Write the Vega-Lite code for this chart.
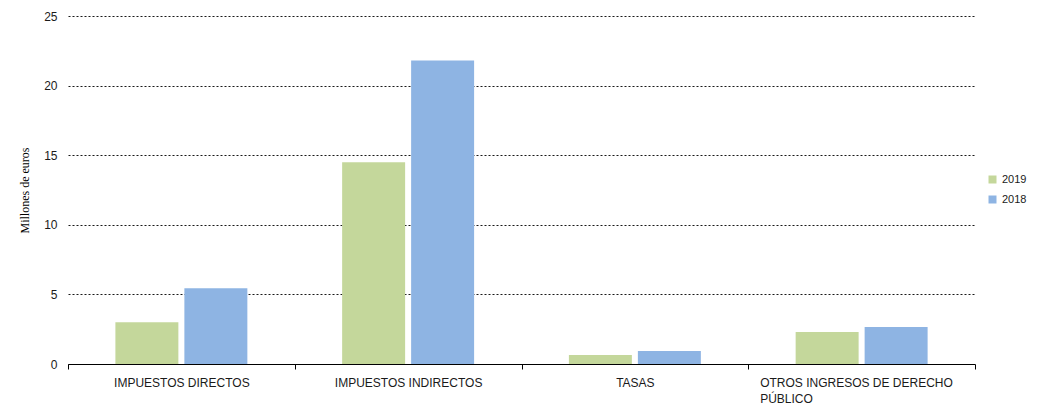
{
  "$schema": "https://vega.github.io/schema/vega-lite/v6.json",
  "autosize": {"type": "none"},
  "padding": {"left": 68, "top": 16, "right": 62, "bottom": 44},
  "width": 907,
  "height": 348,
  "background": "white",
  "data": {"values": [
    {"categoria": "IMPUESTOS DIRECTOS", "año": "2019", "valor": 3.0},
    {"categoria": "IMPUESTOS DIRECTOS", "año": "2018", "valor": 5.45},
    {"categoria": "IMPUESTOS INDIRECTOS", "año": "2019", "valor": 14.5},
    {"categoria": "IMPUESTOS INDIRECTOS", "año": "2018", "valor": 21.8},
    {"categoria": "TASAS", "año": "2019", "valor": 0.65},
    {"categoria": "TASAS", "año": "2018", "valor": 0.93},
    {"categoria": "OTROS INGRESOS DE DERECHO PÚBLICO", "año": "2019", "valor": 2.3},
    {"categoria": "OTROS INGRESOS DE DERECHO PÚBLICO", "año": "2018", "valor": 2.66}
  ]},
  "mark": {"type": "bar"},
  "encoding": {
    "x": {
      "field": "categoria", "type": "nominal",
      "sort": ["IMPUESTOS DIRECTOS", "IMPUESTOS INDIRECTOS", "TASAS", "OTROS INGRESOS DE DERECHO PÚBLICO"],
      "scale": {"paddingInner": 0, "paddingOuter": 0},
      "axis": {
        "title": null,
        "labelAngle": 0,
        "labelFont": "Liberation Sans",
        "labelFontSize": 12,
        "labelColor": "#1a1a1a",
        "labelPadding": 8,
        "labelLimit": 0,
        "labelExpr": "datum.value == 'OTROS INGRESOS DE DERECHO PÚBLICO' ? ['OTROS INGRESOS DE DERECHO', 'PÚBLICO'] : datum.value",
        "labelAlign": {"condition": {"test": "datum.value == 'OTROS INGRESOS DE DERECHO PÚBLICO'", "value": "left"}, "value": "center"},
        "labelOffset": {"condition": {"test": "datum.value == 'OTROS INGRESOS DE DERECHO PÚBLICO'", "value": -102}, "value": 0},
        "labelLineHeight": 16,
        "domainColor": "#000000",
        "domainWidth": 1,
        "tickColor": "#000000",
        "tickSize": 5,
        "tickBand": "extent",
        "grid": false
      }
    },
    "xOffset": {
      "field": "año", "type": "nominal",
      "scale": {"domain": ["2019", "2018"], "paddingInner": 0.087, "paddingOuter": 0.687}
    },
    "y": {
      "field": "valor", "type": "quantitative",
      "scale": {"domain": [0, 25]},
      "axis": {
        "title": "Millones de euros",
        "titleFont": "Liberation Serif",
        "titleFontSize": 12,
        "titleFontWeight": "normal",
        "titleColor": "#000000",
        "titlePadding": 12,
        "values": [0, 5, 10, 15, 20, 25],
        "domain": false,
        "ticks": false,
        "tickSize": 0,
        "labelPadding": 11,
        "labelFont": "Liberation Sans",
        "labelFontSize": 12,
        "labelColor": "#1a1a1a",
        "grid": true,
        "gridColor": "#000000",
        "gridDash": [2, 2],
        "gridWidth": 1,
        "gridOpacity": 0.9
      }
    },
    "color": {
      "field": "año", "type": "nominal",
      "scale": {"domain": ["2019", "2018"], "range": ["#c4d79b", "#8eb4e3"]},
      "legend": {
        "title": null,
        "orient": "none",
        "legendX": 919,
        "legendY": 158,
        "symbolType": "square",
        "symbolSize": 64,
        "symbolStrokeWidth": 0,
        "labelFont": "Liberation Sans",
        "labelFontSize": 11,
        "labelColor": "#1a1a1a",
        "rowPadding": 8
      }
    }
  },
  "config": {"view": {"stroke": null}}
}
